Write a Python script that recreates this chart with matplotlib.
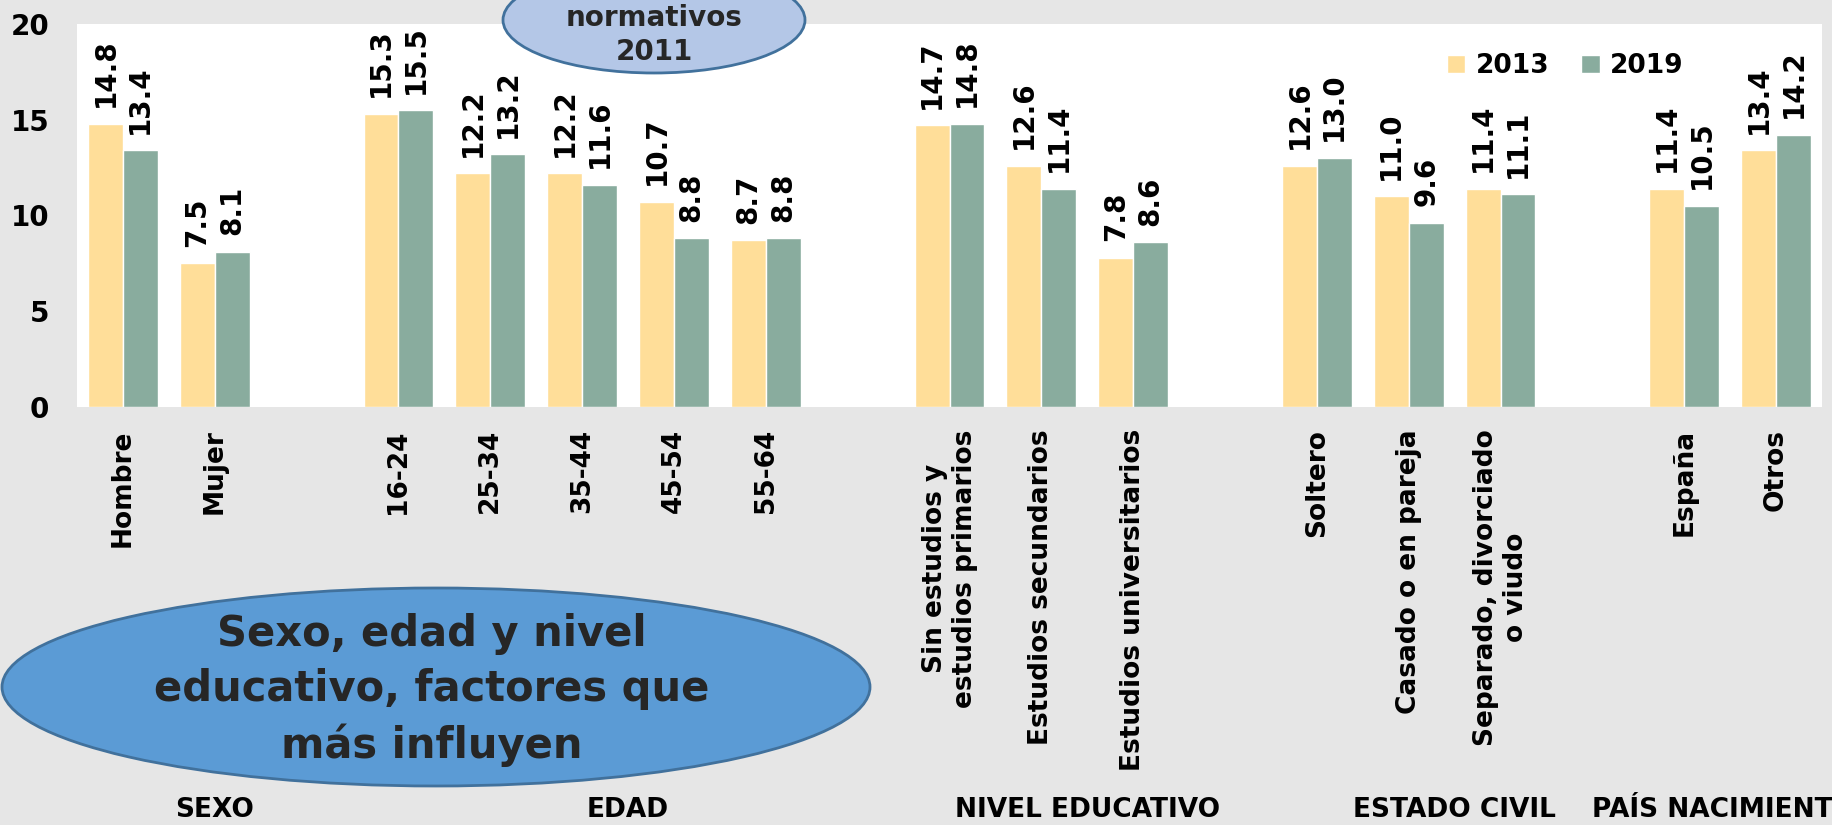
import matplotlib
matplotlib.use('Agg')
import matplotlib.pyplot as plt
from matplotlib.patches import Ellipse
from matplotlib.transforms import blended_transform_factory
import numpy as np

# categorias (None = hueco entre grupos)
categorias = ['Hombre', 'Mujer', None,
              '16-24', '25-34', '35-44', '45-54', '55-64', None,
              'Sin estudios y\nestudios primarios', 'Estudios secundarios', 'Estudios universitarios', None,
              'Soltero', 'Casado o en pareja', 'Separado, divorciado\no viudo', None,
              'España', 'Otros']
v2013 = [14.8, 7.5, None, 15.3, 12.2, 12.2, 10.7, 8.7, None,
         14.7, 12.6, 7.8, None, 12.6, 11.0, 11.4, None, 11.4, 13.4]
v2019 = [13.4, 8.1, None, 15.5, 13.2, 11.6, 8.8, 8.8, None,
         14.8, 11.4, 8.6, None, 13.0, 9.6, 11.1, None, 10.5, 14.2]
series = ['2013', '2019']
grupos = ['SEXO', 'EDAD', 'NIVEL EDUCATIVO', 'ESTADO CIVIL', 'PAÍS NACIMIENTO']
grupos_x = [1.0, 5.5, 10.5, 14.5, 16.0]

col13 = '#FFDE99'
col19 = '#89AC9E'
fondo = '#E6E6E6'

fig = plt.figure(figsize=(18.32, 8.25), dpi=100, facecolor=fondo)
ax = fig.add_axes([77/1832, 1-407/825, 1745/1832, 383/825])
ax.set_facecolor('white')

idx = [i for i, c in enumerate(categorias) if c is not None]
x = np.array(idx, dtype=float)
w = 0.38
b1 = ax.bar(x - w/2, [v2013[i] for i in idx], w, color=col13, edgecolor='white', linewidth=1, label=series[0])
b2 = ax.bar(x + w/2, [v2019[i] for i in idx], w, color=col19, edgecolor='white', linewidth=1, label=series[1])
for b in (b1, b2):
    ax.bar_label(b, fmt='%.1f', rotation=90, padding=12, fontsize=20, fontweight='bold', color='black')

ax.set_xlim(-0.5, len(categorias) - 0.5)
ax.set_ylim(0, 20)
ax.set_yticks([0, 5, 10, 15, 20])
ax.set_xticks(x)
ax.set_xticklabels([categorias[i] for i in idx], rotation=90, fontsize=19, fontweight='bold',
                   multialignment='center')
for t in ax.get_yticklabels():
    t.set_fontsize(20)
    t.set_fontweight('bold')
ax.tick_params(axis='both', length=0)
ax.tick_params(axis='x', pad=16)
ax.tick_params(axis='y', pad=20)
for s in ax.spines.values():
    s.set_visible(False)

leg = ax.legend(loc='center', bbox_to_anchor=(0.853, 0.89), ncol=2, frameon=False,
                handlelength=0.7, handleheight=0.7, handletextpad=0.4, columnspacing=1.2,
                prop={'size': 19, 'weight': 'bold'})

# titulos de grupo
tr = blended_transform_factory(ax.transData, fig.transFigure)
for g, gx in zip(grupos, grupos_x):
    ha = 'left' if g == 'PAÍS NACIMIENTO' else 'center'
    fig.text(gx, 1-810/825, g, transform=tr, ha=ha, va='center', fontsize=19,
             fontweight='bold')

# elipse superior (cortada)
e1 = Ellipse((654/1832, 1-20/825), 302/1832, 106/825, transform=fig.transFigure,
             facecolor='#B4C7E7', edgecolor='#41719C', linewidth=2)
fig.add_artist(e1)
fig.text(654/1832, 1-35/825, 'normativos\n2011', ha='center', va='center', fontsize=20,
         fontweight='bold', color='#262626', linespacing=1.25)

# elipse inferior
e2 = Ellipse((436/1832, 1-687/825), 868/1832, 198/825, transform=fig.transFigure,
             facecolor='#5B9BD5', edgecolor='#41719C', linewidth=2)
fig.add_artist(e2)
fig.text(432/1832, 1-690/825, 'Sexo, edad y nivel\neducativo, factores que\nmás influyen',
         ha='center', va='center', fontsize=30, fontweight='bold', color='#262626',
         linespacing=1.4)

fig.savefig('out.png', dpi=100, facecolor=fondo)
